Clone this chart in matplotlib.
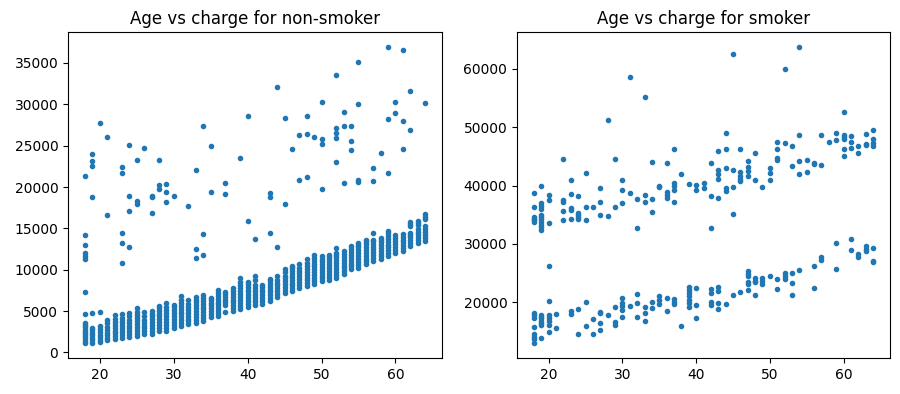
import matplotlib
matplotlib.use("Agg")
import matplotlib.pyplot as plt

# ---------------- Non-smoker data ----------------
ns_band_ages = list(range(18, 65))
ns_band_charges = [
    [1120, 1400, 1700, 1950, 2200, 2500, 2750, 3050, 3350, 3600],          # 18
    [1200, 1500, 1800, 2100, 2400, 2700, 3000],                            # 19
    [1250, 1550, 1850, 2150, 2450, 2800, 3200],                            # 20
    [1450, 1750, 2050, 2400, 2750, 3100, 3500, 3950],                      # 21
    [1600, 1950, 2300, 2650, 3000, 3350, 3700, 4050, 4500],                # 22
    [1750, 2100, 2450, 2800, 3150, 3500, 3850, 4200, 4700],                # 23
    [1850, 2200, 2550, 2900, 3250, 3600, 3950, 4350, 4800],                # 24
    [2000, 2350, 2700, 3050, 3400, 3800, 4200, 4550, 4950, 5400],          # 25
    [2200, 2550, 2900, 3250, 3600, 3950, 4350, 4900],                      # 26
    [2250, 2600, 2950, 3300, 3650, 4000, 4350, 4700, 5000],                # 27
    [2600, 2950, 3300, 3650, 4000, 4350, 4700, 5050, 5350, 5650],          # 28
    [2650, 3000, 3350, 3700, 4050, 4400, 4750, 5100, 5450, 5950],          # 29
    [3000, 3350, 3700, 4050, 4400, 4750, 5100, 5450, 5700],                # 30
    [3200, 3550, 3900, 4250, 4600, 4950, 5300, 5650, 6000, 6400, 6800],    # 31
    [3400, 3750, 4100, 4450, 4800, 5150, 5500, 5850, 6350],                # 32
    [3600, 3950, 4300, 4650, 5000, 5350, 5700, 6050, 6400, 6700],          # 33
    [3800, 4150, 4500, 4850, 5200, 5550, 5900, 6250, 6600, 6900],          # 34
    [4300, 4650, 5000, 5350, 5700, 6000, 6300, 6600],                      # 35
    [4400, 4750, 5100, 5450, 5800, 6150, 6500, 6850, 7200, 7500],          # 36
    [4900, 5700, 6050, 6400, 6750, 7050, 7350],                            # 37
    [5000, 5350, 5700, 6050, 6400, 6750, 7100, 7450, 7800],                # 38
    [5300, 5650, 6000, 6350, 6700, 7050, 7400, 7750, 8100, 8500, 9000],    # 39
    [5500, 5850, 6200, 6550, 6900, 7250, 7600, 7950, 8250, 8500],          # 40
    [5700, 6050, 6400, 6750, 7100, 7450, 7800, 8200, 8700, 9250],          # 41
    [5900, 6250, 6600, 6950, 7300, 7600, 7900, 8200],                      # 42
    [6200, 6550, 6900, 7250, 7600, 7950, 8300, 8600, 8850],                # 43
    [6700, 7050, 7400, 7750, 8100, 8450, 8800, 9200],                      # 44
    [7200, 7550, 7900, 8250, 8600, 8950, 9300, 9700, 10100],               # 45
    [7400, 7750, 8100, 8450, 8800, 9150, 9500, 9850, 10150, 10400],        # 46
    [7800, 8150, 8500, 8850, 9200, 9550, 9900, 10250, 10700],              # 47
    [8000, 8350, 8700, 9050, 9400, 9750, 10100, 10450, 10850, 11300],      # 48
    [8300, 8650, 9000, 9350, 9700, 10050, 10400, 10750, 11100, 11450, 11800],  # 49
    [8600, 8950, 9300, 9650, 10000, 10350, 10700, 11050, 11350, 11600],    # 50
    [8800, 9150, 9500, 9850, 10200, 10550, 10900, 11250, 11550, 11800],    # 51
    [9050, 9400, 9750, 10100, 10450, 10800, 11150, 11500, 11800, 12050],   # 52
    [9450, 9800, 10150, 10500, 10850, 11200, 11550, 11900, 12250],         # 53
    [10050, 10400, 10750, 11100, 11450, 11800, 12150, 12500, 12850],       # 54
    [10250, 10600, 10950, 11300, 11650, 12000, 12350, 12700, 13000, 13250],  # 55
    [10650, 11000, 11350, 11700, 12050, 12400, 12750, 13100, 13400, 13650],  # 56
    [11050, 11400, 11750, 12100, 12450, 12800, 13150, 13450, 13650],       # 57
    [11250, 11600, 11950, 12300, 12650, 13000, 13350, 13650, 13850],       # 58
    [11650, 12000, 12350, 12700, 13050, 13400, 13750, 14100, 14400, 14700],  # 59
    [12050, 12400, 12750, 13100, 13450, 13800, 14150],                     # 60
    [12250, 12600, 12950, 13300, 13650, 14000, 14300],                     # 61
    [12850, 13200, 13550, 13900, 14200, 14500, 15300, 15550, 15800],       # 62
    [13250, 13600, 13950, 14300, 14600, 14900, 15400, 15650, 15900],       # 63
    [13500, 13850, 14200, 14550, 14900, 15300, 16100, 16400, 16700],       # 64
]

ns_out_ages = [18, 18, 18, 18, 18, 18, 18, 18,
               19, 19, 19, 19, 19, 20, 20, 21, 21,
               23, 23, 23, 23, 23, 24, 24, 24, 24, 25, 25, 25, 26,
               27, 27, 27, 28, 28, 28, 29, 29, 29, 30, 32,
               33, 33, 33, 34, 34, 34, 35, 35, 37, 37, 39, 40, 40, 41,
               43, 43, 43, 44, 44, 45, 45, 46, 47, 47, 48, 48, 48, 49,
               50, 50, 50, 50, 52, 52, 52, 52, 52, 52, 53, 53, 53,
               54, 54, 54, 55, 55, 55, 55, 57, 57, 57, 58, 59, 59, 59,
               60, 60, 61, 61, 61, 62, 62, 64]
ns_out_charges = [21350, 14200, 12950, 12050, 11650, 11300, 7300, 4630,
                  24050, 23200, 22500, 18850, 4780, 27750, 4920, 26100, 16650,
                  22400, 21650, 14450, 13200, 10800, 25050, 18950, 17150, 12700,
                  23300, 18250, 17950, 24700,
                  18950, 18750, 16800, 23300, 20250, 19700, 20400, 19400, 18150,
                  18950, 17650,
                  22000, 12450, 11400, 27400, 14350, 11800, 24950, 19450,
                  20500, 19200, 23550, 28550, 15900, 13700,
                  19300, 18850, 14450, 32150, 12800, 28400, 17950, 24550,
                  26250, 20850, 28550, 26350, 21250, 26100,
                  30300, 25750, 25250, 19700, 33500, 27100, 26500, 25950,
                  23000, 12600, 29100, 27400, 20500,
                  27400, 25550, 24450, 35150, 30050, 20850, 20550,
                  22250, 20750, 14500, 24150, 36950, 28250, 21750,
                  30300, 28900, 36600, 28000, 24550, 31600, 26950, 30200]

# ---------------- Smoker data ----------------
sm_ages = list(range(18, 65))
sm_charges = [
    [38770, 36400, 34600, 34300, 34000, 33700, 18200, 17700, 17300, 15650, 14500, 14000, 13650, 12950],  # 18
    [39900, 37000, 36500, 36000, 35000, 34600, 34200, 33800, 33300, 32800, 32400,
     17850, 17500, 17200, 16800, 16450, 16100, 13850],                                              # 19
    [38400, 37500, 33500, 26200, 20200, 17750, 17300, 16800, 16150, 14800],                         # 20
    [17950, 15500],                                                                                  # 21
    [44550, 37500, 37100, 35650, 34000],                                                             # 22
    [40950, 38550, 36150, 35850, 34250, 18450, 17950],                                               # 23
    [38250, 35300, 34950, 34600, 34200, 18800, 14550],                                               # 24
    [42200, 36250, 34000, 20050, 15850],                                                             # 25
    [36250, 17100, 14550],                                                                           # 26
    [39650, 37100, 34950, 18350, 18050, 16450, 15150],                                               # 27
    [51300, 34750, 17700],                                                                           # 28
    [44550, 36250, 19150, 16550, 16150],                                                             # 29
    [40950, 39250, 36950, 20750, 19800, 19300, 18700, 17450],                                        # 30
    [58600, 38800, 19400],                                                                           # 31
    [37650, 32750, 21450, 19850, 17500],                                                             # 32
    [55150, 38400, 37100, 19100, 18050, 16750],                                                      # 33
    [44000, 37650, 35450, 20050, 18950],                                                             # 34
    [40000, 39800, 21100, 20400, 19600],                                                             # 35
    [43850, 38900, 38400, 37900, 20750, 18550],                                                      # 36
    [46200, 40400, 40000, 39300, 37250, 20500, 20100, 19600],                                        # 37
    [42050, 15850],                                                                                  # 38
    [40200, 22650, 22100, 21600, 21000, 20400, 19900, 19150],                                        # 39
    [40100, 39250, 22400, 19500, 17300],                                                             # 40
    [40400, 39600],                                                                                  # 41
    [43850, 38200, 32750, 22300, 21500, 20100, 19500],                                               # 42
    [45850, 42700, 42000, 41100, 37900, 22550, 21900, 19850, 18800],                                 # 43
    [48950, 46250, 42950, 39600, 39100, 19650],                                                      # 44
    [62600, 42750, 39800, 35100, 21150],                                                             # 45
    [46200, 42300, 41700, 41200, 40700, 21700],                                                      # 46
    [44250, 43100, 42500, 41600, 25300, 24800, 24400, 23500, 23100, 22000],                          # 47
    [45600, 40950, 24200, 23700, 23400, 21300],                                                      # 48
    [39800, 24100, 23600, 23150],                                                                    # 49
    [42950, 42100, 41000, 24500],                                                                    # 50
    [47500, 46200, 44700, 44300, 23950, 22200],                                                      # 51
    [60000, 47300, 24950, 24500, 23950],                                                             # 52
    [46750, 43300, 24950, 23300, 21300],                                                             # 53
    [63800, 48600, 44150, 42000, 25450],                                                             # 54
    [44400, 42350],                                                                                  # 55
    [43950, 43700, 26150, 22400],                                                                    # 56
    [48750, 43600, 27700, 27250],                                                                    # 57
    [47450],                                                                                         # 58
    [49000, 47850, 30150, 25650],                                                                    # 59
    [52550, 48700, 48300, 47900, 46300, 45100],                                                      # 60
    [48550, 47500, 46500, 30900, 28950],                                                             # 61
    [46700, 45600, 28250, 27800],                                                                    # 62
    [48900, 47200, 47000, 29550, 29100, 28700],                                                      # 63
    [49600, 48000, 47300, 46800, 29250, 27100, 26800],                                               # 64
]

titles = ["Age vs charge for non-smoker", "Age vs charge for smoker"]


def flatten(ages, groups):
    xs, ys = [], []
    for a, vals in zip(ages, groups):
        for v in vals:
            xs.append(a)
            ys.append(v)
    return xs, ys


ns_x, ns_y = flatten(ns_band_ages, ns_band_charges)
ns_x += ns_out_ages
ns_y += ns_out_charges
sm_x, sm_y = flatten(sm_ages, sm_charges)

fig = plt.figure(figsize=(9, 3.94), dpi=100)
ax1 = fig.add_axes([68 / 900, 36 / 394, 374 / 900, 326 / 394])
ax2 = fig.add_axes([517 / 900, 36 / 394, 373 / 900, 326 / 394])

color = "#1f77b4"
ax1.plot(ns_x, ns_y, ".", color=color, linestyle="none")
ax2.plot(sm_x, sm_y, ".", color=color, linestyle="none")

ax1.set_title(titles[0])
ax2.set_title(titles[1])

ax1.set_yticks([0, 5000, 10000, 15000, 20000, 25000, 30000, 35000])
ax2.set_yticks([20000, 30000, 40000, 50000, 60000])
for ax in (ax1, ax2):
    ax.set_xticks([20, 30, 40, 50, 60])

fig.savefig("out.png", dpi=100)
